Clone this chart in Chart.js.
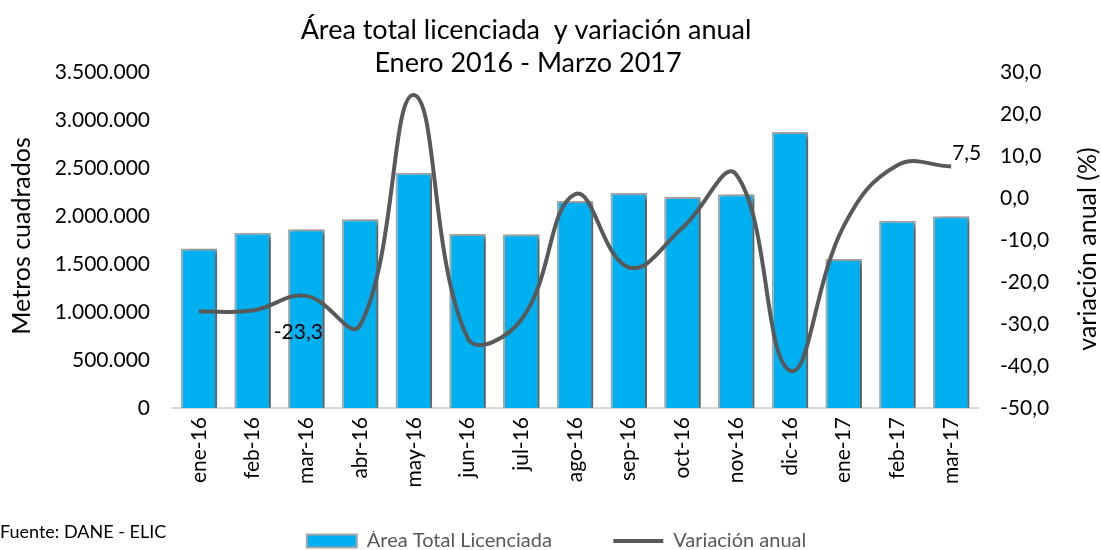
<!DOCTYPE html>
<html><head><meta charset="utf-8">
<script src="https://cdn.jsdelivr.net/npm/chart.js@4/dist/chart.umd.min.js"></script>
<style>html,body{margin:0;padding:0;background:#fff}#wrap{width:1101px;height:550px}</style>
</head><body><div id="wrap"><canvas id="c" width="1101" height="550"></canvas></div>
<script>
const categories = ['ene-16','feb-16','mar-16','abr-16','may-16','jun-16','jul-16','ago-16','sep-16','oct-16','nov-16','dic-16','ene-17','feb-17','mar-17'];
const areaValues = [1662000,1826000,1861000,1965000,2451000,1812000,1810000,2156000,2240000,2198000,2226000,2875000,1552000,1951000,1997000];
const variationValues = [-27.0,-26.8,-23.3,-30.3,24.5,-33.3,-29.0,0.9,-16.5,-7.1,5.6,-41.1,-6.7,7.8,7.5];
const labelledPoints = [2,14];
const leftTicksMax = 3500000, leftStep = 500000;
const rightMin = -50, rightMax = 30, rightStep = 10;

const FONT = 'Lato, "Open Sans", sans-serif';

const fmtThousands = v => String(Math.round(v)).replace(/\B(?=(\d{3})+(?!\d))/g, '.');
const fmtDec = v => v.toFixed(1).replace('.', ',');

const shadowPlugin = {
  id: 'barShadow',
  beforeDatasetDraw(chart, args) {
    if (args.meta.type === 'bar') {
      const ctx = chart.ctx; ctx.save();
      ctx.shadowColor = 'rgba(0,0,0,0.45)';
      ctx.shadowBlur = 5; ctx.shadowOffsetX = 5; ctx.shadowOffsetY = 2;
    }
  },
  afterDatasetDraw(chart, args) {
    if (args.meta.type === 'bar') chart.ctx.restore();
  }
};

const textPlugin = {
  id: 'texts',
  afterDraw(chart) {
    const ctx = chart.ctx;
    ctx.save();
    ctx.fillStyle = '#000';
    ctx.textBaseline = 'middle';
    // title
    ctx.font = '27px ' + FONT;
    ctx.textAlign = 'center';
    ctx.fillText('Área total licenciada  y variación anual', 526, 30);
    ctx.fillText('Enero 2016 - Marzo 2017', 528, 63);
    // axis titles
    ctx.font = '25px ' + FONT;
    ctx.save(); ctx.translate(22, 236); ctx.rotate(-Math.PI/2);
    ctx.fillText('Metros cuadrados', 0, 0); ctx.restore();
    ctx.save(); ctx.translate(1088, 249); ctx.rotate(-Math.PI/2);
    ctx.fillText('variación anual (%)', 0, 0); ctx.restore();
    // source
    ctx.font = '18px ' + FONT;
    ctx.textAlign = 'left';
    ctx.fillText('Fuente: DANE - ELIC', 0, 532);
    // data labels
    const meta = chart.getDatasetMeta(1);
    ctx.font = '21px ' + FONT;
    labelledPoints.forEach(i => {
      const p = meta.data[i];
      const txt = fmtDec(variationValues[i]);
      if (i === 14) { ctx.textAlign = 'left'; ctx.fillText(txt, p.x + 1, p.y - 13); }
      else { ctx.textAlign = 'center'; ctx.fillText(txt, p.x - 8, p.y + 36); }
    });
    ctx.restore();
  }
};

new Chart(document.getElementById('c'), {
  data: {
    labels: categories,
    datasets: [
      { type: 'bar', label: 'Área Total Licenciada', data: areaValues, yAxisID: 'y',
        backgroundColor: '#00B0F0', borderColor: '#A6A6A6', borderWidth: 2,
        barPercentage: 0.68, categoryPercentage: 1, order: 1 },
      { type: 'line', label: 'Variación anual', data: variationValues, yAxisID: 'y1',
        borderColor: '#595959', backgroundColor: '#595959', borderWidth: 4,
        pointRadius: 0, tension: 0.42, order: 0 }
    ]
  },
  options: {
    responsive: false, animation: false,
    layout: { padding: { top: 72, left: 12, right: 0, bottom: -11 } },
    plugins: {
      legend: {
        position: 'bottom',
        labels: {
          usePointStyle: true, pointStyleWidth: 50, boxHeight: 13,
          color: '#595959', font: { family: FONT, size: 20 }, padding: 0,
          sort: (a, b) => a.datasetIndex - b.datasetIndex,
          generateLabels(chart) {
            return chart.data.datasets.map((d, i) => ({
              text: d.label + (i === 0 ? '            ' : ''),
              fillStyle: d.type === 'bar' ? d.backgroundColor : d.borderColor,
              strokeStyle: d.type === 'bar' ? '#A6A6A6' : d.borderColor,
              lineWidth: d.type === 'bar' ? 2 : 4,
              pointStyle: d.type === 'bar' ? 'rect' : 'line',
              fontColor: '#595959', datasetIndex: i, hidden: false
            }));
          }
        }
      },
      tooltip: { enabled: false }
    },
    scales: {
      x: {
        grid: { display: false, drawTicks: false },
        border: { display: true, color: '#D9D9D9', width: 2 },
        ticks: { color: '#000', font: { family: FONT, size: 21 }, minRotation: 90, maxRotation: 90, padding: 9 },
        afterFit(s) { s.height = 123; }
      },
      y: {
        position: 'left', min: 0, max: leftTicksMax,
        grid: { display: false, drawTicks: false },
        border: { display: false },
        ticks: { stepSize: leftStep, color: '#000', font: { family: FONT, size: 21 }, padding: 22,
                 callback: v => fmtThousands(v) },
        afterFit(s) { s.width = 160; }
      },
      y1: {
        position: 'right', min: rightMin, max: rightMax,
        grid: { display: false, drawTicks: false },
        border: { display: false },
        ticks: { stepSize: rightStep, color: '#000', font: { family: FONT, size: 21 }, padding: 22,
                 callback: v => fmtDec(v) },
        afterFit(s) { s.width = 123; }
      }
    }
  },
  plugins: [shadowPlugin, textPlugin]
});
</script></body></html>
